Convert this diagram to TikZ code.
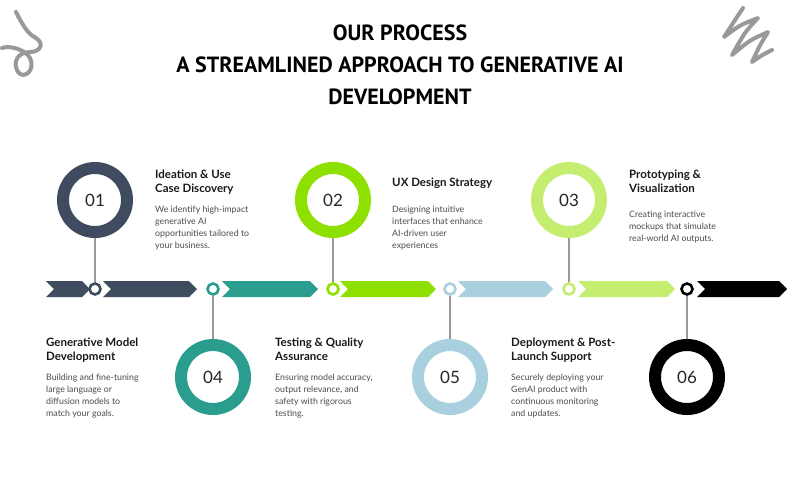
\documentclass[tikz,border=0pt]{standalone}
\usepackage{fontspec}
\setmainfont{Lato}
\newfontfamily\titlefont{PT Sans}
\begin{document}
\begin{tikzpicture}[x=1pt,y=-1pt,
  big/.style={circle,draw=#1,line width=12pt,fill=white,minimum size=64pt,font=\fontsize{17}{17}\selectfont,text=black!85},
  dot/.style={circle,draw=#1,line width=2.6pt,fill=white,minimum size=11pt,inner sep=0},
  link/.style={draw=gray!80,line width=1.5pt},
  head/.style={anchor=north west,align=left,font=\bfseries\fontsize{11.5}{14}\selectfont,text=black!90,inner sep=0},
  body/.style={anchor=north west,align=left,font=\fontsize{8.8}{12}\selectfont,text=black!70,inner sep=0},
  scrib/.style={draw=gray!80,line width=4pt,line cap=round,line join=round}]
\definecolor{cA}{HTML}{3F4B5E}\definecolor{cB}{HTML}{2A9D8F}\definecolor{cC}{HTML}{8EE000}
\definecolor{cD}{HTML}{A8D0DE}\definecolor{cE}{HTML}{C5EE70}\definecolor{cF}{HTML}{000000}
\useasboundingbox[fill=white] (0,0) rectangle (800,480);
% scribbles
\draw[scrib] (16,12) .. controls (25,30) and (30,35) .. (36,38) .. controls (45,44) and (40,52) .. (30,52) .. controls (18,52) and (12,62) .. (18,72) .. controls (24,80) and (36,70) .. (30,58) .. controls (26,50) and (10,45) .. (2,48);
\draw[scrib] (743,8) .. controls (735,20) .. (724,37) .. controls (740,25) .. (758,18) .. controls (745,32) .. (732,55) .. controls (750,40) .. (768,32) .. controls (760,45) .. (752,62) .. controls (762,55) .. (772,50);
% title
\node[font=\titlefont\bfseries\fontsize{22}{32}\selectfont,align=center] (title) at (400,65) {OUR PROCESS\\A STREAMLINED APPROACH TO GENERATIVE AI\\DEVELOPMENT};
% bar segments
\foreach \a/\b/\c in {46/90/cA,103/197/cA,222/318/cB,340/436/cC,458/553/cD,578/675/cE,697/787/cF}{
  \fill[\c] (\a,281)--(\b-8,281)--(\b,289)--(\b-8,297)--(\a,297)--(\a+8,289)--cycle;}
% dots and circles
\foreach \n/\x/\y/\c/\t in {1/95/200/cA/01,2/333/200/cC/02,3/569/200/cE/03,4/213/377/cB/04,5/450/377/cD/05,6/687/377/cF/06}{
  \node[dot=\c] (d\n) at (\x,289) {};
  \node[big=\c] (c\n) at (\x,\y) {\t};
  \draw[link] (c\n) -- (d\n);
}
% texts
\node[head] (h1) at (155,170) {Ideation \& Use\\Case Discovery};
\node[body] (b1) at (155,206) {We identify high-impact\\generative AI\\opportunities tailored to\\your business.};
\node[head] (h2) at (392,178) {UX Design Strategy};
\node[body] (b2) at (392,206) {Designing intuitive\\interfaces that enhance\\AI-driven user\\experiences};
\node[head] (h3) at (629,170) {Prototyping \&\\Visualization};
\node[body] (b3) at (629,211) {Creating interactive\\mockups that simulate\\real-world AI outputs.};
\node[head] (h4) at (46,338) {Generative Model\\Development};
\node[body] (b4) at (46,374) {Building and fine-tuning\\large language or\\diffusion models to\\match your goals.};
\node[head] (h5) at (275,338) {Testing \& Quality\\Assurance};
\node[body] (b5) at (275,374) {Ensuring model accuracy,\\output relevance, and\\safety with rigorous\\testing.};
\node[head] (h6) at (511,338) {Deployment \& Post-\\Launch Support};
\node[body] (b6) at (511,374) {Securely deploying your\\GenAI product with\\continuous monitoring\\and updates.};
\end{tikzpicture}
\end{document}
